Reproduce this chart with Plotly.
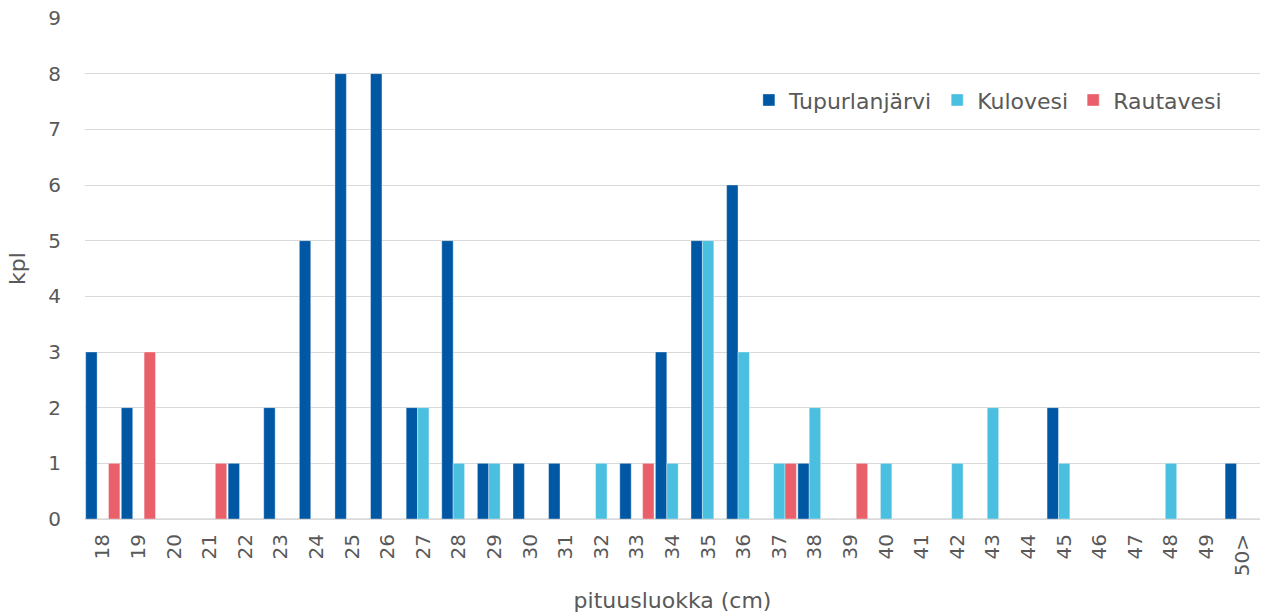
import plotly.graph_objects as go

# Length classes (cm) and catch counts per lake
categories = ["18", "19", "20", "21", "22", "23", "24", "25", "26", "27", "28",
              "29", "30", "31", "32", "33", "34", "35", "36", "37", "38", "39",
              "40", "41", "42", "43", "44", "45", "46", "47", "48", "49", "50>"]

tupurlanjarvi = [3, 2, 0, 0, 1, 2, 5, 8, 8, 2, 5, 1, 1, 1, 0, 1, 3, 5, 6, 0, 1, 0,
                 0, 0, 0, 0, 0, 2, 0, 0, 0, 0, 1]
kulovesi = [0, 0, 0, 0, 0, 0, 0, 0, 0, 2, 1, 1, 0, 0, 1, 0, 1, 5, 3, 1, 2, 0,
            1, 0, 1, 2, 0, 1, 0, 0, 1, 0, 0]
rautavesi = [1, 3, 0, 1, 0, 0, 0, 0, 0, 0, 0, 0, 0, 0, 0, 1, 0, 0, 0, 1, 0, 1,
             0, 0, 0, 0, 0, 0, 0, 0, 0, 0, 0]

series = [
    ("Tupurlanjärvi", tupurlanjarvi, "#0057A4"),
    ("Kulovesi", kulovesi, "#4BBFE0"),
    ("Rautavesi", rautavesi, "#E9606A"),
]

FONT = "DejaVu Sans"
TEXT = "#595959"

fig = go.Figure()
for name, values, color in series:
    fig.add_trace(go.Bar(
        x=categories, y=values, name=name,
        marker=dict(color=color, line=dict(color="rgba(255,255,255,0.6)", width=0.6)),
    ))

fig.update_layout(
    width=1261, height=613,
    margin=dict(l=85, r=1, t=18, b=94),
    paper_bgcolor="white", plot_bgcolor="white",
    barmode="group", bargap=0.04, bargroupgap=0,
    font=dict(family=FONT, color=TEXT, size=20),
    showlegend=True,
    legend=dict(
        orientation="h", x=0.565, y=0.836, xanchor="left", yanchor="middle",
        font=dict(family=FONT, size=22, color=TEXT),
        bgcolor="rgba(0,0,0,0)", itemwidth=30, traceorder="normal",
    ),
    xaxis=dict(
        type="category", range=[-0.5, 32.5],
        tickangle=-90, tickfont=dict(size=20, color=TEXT), ticklabelstandoff=6,
        showgrid=False, showline=True, linecolor="#D9D9D9", linewidth=1,
        ticks="", title=dict(text="pituusluokka (cm)", font=dict(size=22, color=TEXT), standoff=20),
    ),
    yaxis=dict(
        range=[0, 9], dtick=1, tickfont=dict(size=20, color=TEXT),
        showgrid=True, gridcolor="#D9D9D9", gridwidth=1,
        zeroline=True, zerolinecolor="#D9D9D9",
        ticks="", ticklabelstandoff=23,
        title=dict(text="kpl", font=dict(size=22, color=TEXT), standoff=16),
    ),
)

fig.write_html("out.html")
